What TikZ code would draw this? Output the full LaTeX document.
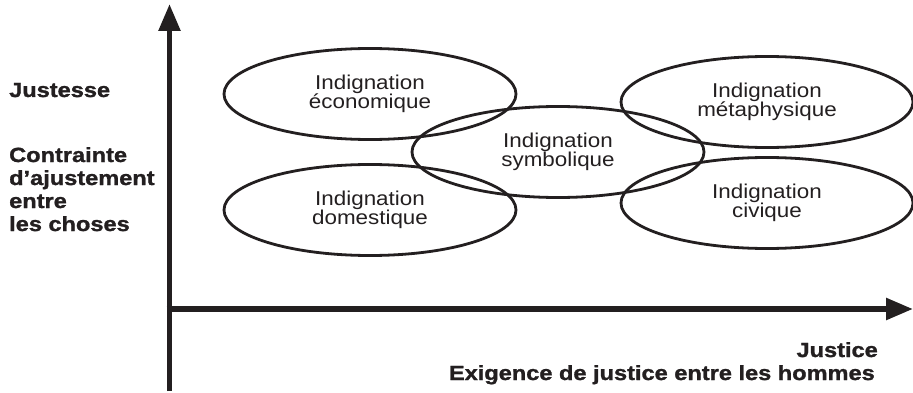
\documentclass[tikz,border=0pt]{standalone}
\usepackage{fontspec}
\setmainfont{Liberation Sans}
\newfontfamily\lblfont[FakeStretch=1.12]{Liberation Sans}
\newfontfamily\headfont[FakeStretch=1.15,FakeBold=1.3]{Liberation Sans Bold}
\usetikzlibrary{shapes.geometric,arrows.meta}
\definecolor{ink}{HTML}{231F20}
\begin{document}
\begin{tikzpicture}[x=1pt,y=-1pt,
  axis/.style={draw=ink,line width=5.5pt,-{Triangle[length=27pt,width=21pt]}},
  zone/.style={ellipse,draw=ink,line width=2.8pt,minimum width=292pt,minimum height=91pt,
    inner sep=0pt,align=center,text=ink,font=\lblfont\fontsize{20}{19}\selectfont},
  side/.style={anchor=base west,align=left,text=ink,inner sep=0pt,
    font=\headfont\fontsize{20.5}{23}\selectfont},
  foot/.style={anchor=base east,align=right,text=ink,inner sep=0pt,
    font=\headfont\fontsize{20.5}{23}\selectfont}]
\useasboundingbox (0,0) rectangle (913,393);
\fill[white] (0,0) rectangle (913,393);

% axes
\coordinate (yfoot) at (169.5,391);
\coordinate (ytip) at (169.5,4);
\coordinate (xfoot) at (166.5,309);
\coordinate (xtip) at (913,309);
\draw[axis] (yfoot) -- (ytip);
\draw[axis] (xfoot) -- (xtip);

% indignation zones
\node[zone] (eco) at (370,94) {Indignation\\économique};
\node[zone] (dom) at (370,210) {Indignation\\domestique};
\node[zone] (sym) at (558,152) {Indignation\\symbolique};
\node[zone] (meta) at (767,102) {Indignation\\métaphysique};
\node[zone] (civ) at (767,203) {Indignation\\civique};

% axis labels (multi-line labels sit on the baseline of their last line)
\node[side] (justesse) at (9,97) {Justesse};
\node[side] (contrainte) at (9,231) {Contrainte\\d’ajustement\\entre\\les choses};
\node[foot] (justice) at (878,357) {Justice};
\node[foot] (exigence) at (875,380) {Exigence de justice entre les hommes};
\end{tikzpicture}
\end{document}
